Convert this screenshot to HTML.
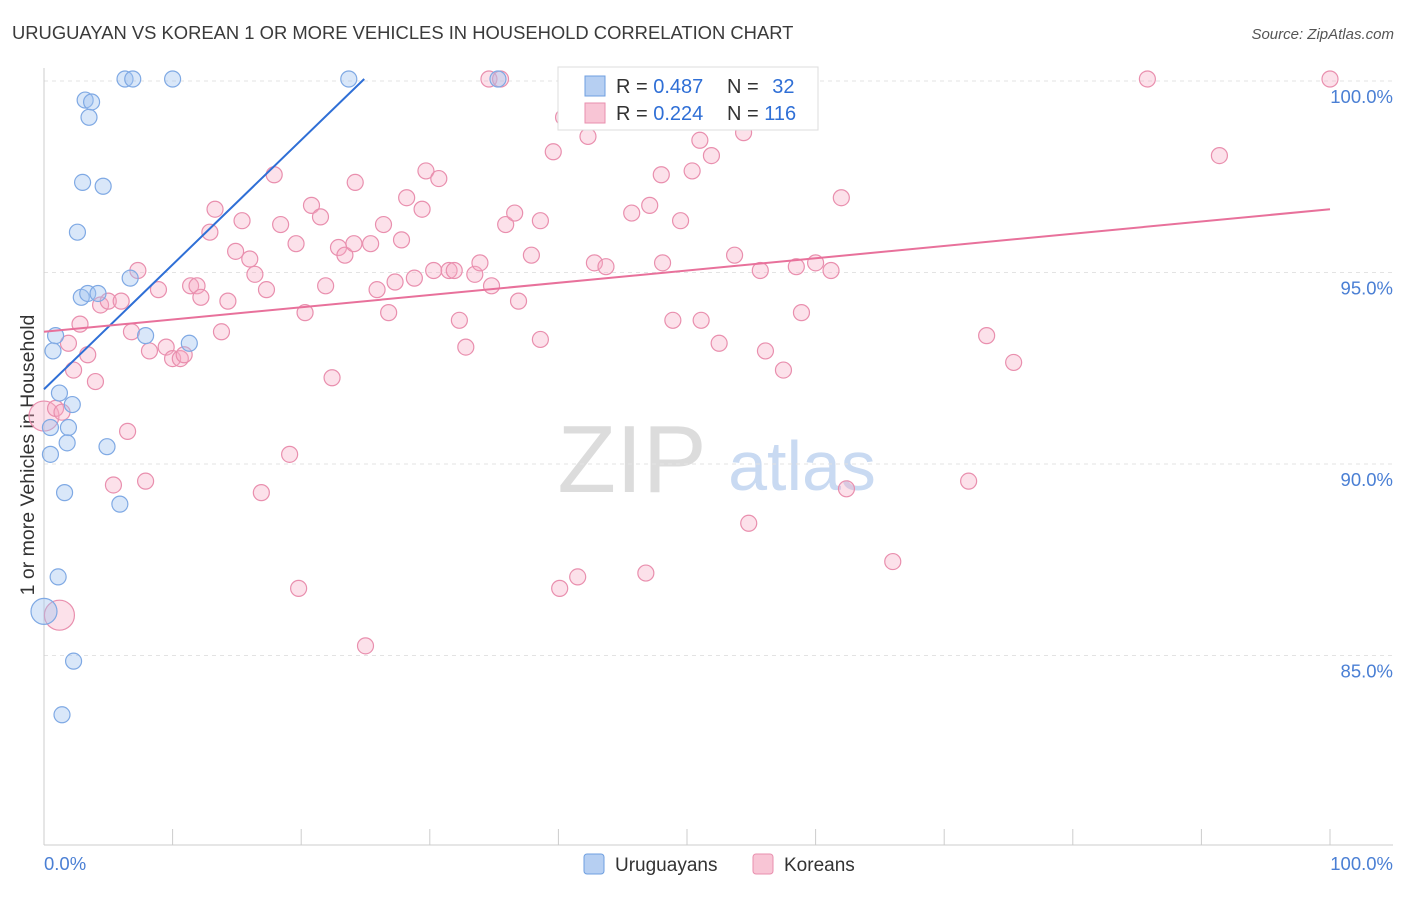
<!DOCTYPE html>
<html><head><meta charset="utf-8"><style>
body{margin:0;background:#fff;font-family:"Liberation Sans",sans-serif;}
svg text{font-family:"Liberation Sans",sans-serif;}
</style></head><body>
<svg id="chart" width="1406" height="892" viewBox="0 0 1406 892" xmlns="http://www.w3.org/2000/svg">
<text x="12" y="39" font-size="18.4" fill="#3a3a3a">URUGUAYAN VS KOREAN 1 OR MORE VEHICLES IN HOUSEHOLD CORRELATION CHART</text>
<text x="1394" y="39" font-size="15" fill="#555" text-anchor="end" font-style="italic">Source: ZipAtlas.com</text>
<text transform="translate(34,455) rotate(-90)" font-size="19.5" fill="#333" text-anchor="middle">1 or more Vehicles in Household</text>
<g>
<text x="632" y="492" font-size="96" fill="#dcdcdc" text-anchor="middle" font-family="Liberation Serif, serif">ZIP</text>
<text x="802" y="490" font-size="70" fill="#c9daf2" text-anchor="middle">atlas</text>
</g>
<g id="grid"></g><g id="axes"></g><g id="pts"></g><g id="lines"></g>
<g>
<rect x="558" y="67" width="260" height="63" fill="#fff" stroke="#ddd"/>
<rect x="585" y="76" width="20" height="20" fill="#b6cff2" stroke="#6f9fe0"/>
<rect x="585" y="103" width="20" height="20" fill="#f8c5d5" stroke="#e98fae"/>
<text x="616" y="93" font-size="20" fill="#333">R = <tspan fill="#2f6fd6">0.487</tspan></text>
<text x="727" y="93" font-size="20" fill="#333">N = <tspan fill="#2f6fd6" dx="8">32</tspan></text>
<text x="616" y="120" font-size="20" fill="#333">R = <tspan fill="#2f6fd6">0.224</tspan></text>
<text x="727" y="120" font-size="20" fill="#333">N = <tspan fill="#2f6fd6">116</tspan></text>
</g>
<g>
<rect x="584" y="854" width="20" height="20" rx="3" fill="#b6cff2" stroke="#6f9fe0"/>
<text x="615" y="871" font-size="19" fill="#333">Uruguayans</text>
<rect x="753" y="854" width="20" height="20" rx="3" fill="#f8c5d5" stroke="#e98fae"/>
<text x="784" y="871" font-size="19" fill="#333">Koreans</text>
</g>
</svg>
<script>
const yTicks=[100,95,90,85];
const xTickVals=[0,10,20,30,40,50,60,70,80,90,100];
const blueX=[6.3,6.9,10.0,23.7,35.3,3.2,3.7,3.5,3.0,4.6,2.6,6.7,2.9,3.4,4.2,0.9,7.9,0.7,11.3,1.2,2.2,0.5,1.9,1.8,4.9,0.5,1.6,5.9,1.1,0,2.3,1.4];
const blueY=[100,100,100,100,100,99.45,99.4,99.0,97.3,97.2,96.0,94.8,94.3,94.4,94.4,93.3,93.3,92.9,93.1,91.8,91.5,90.9,90.9,90.5,90.4,90.2,89.2,88.9,87.0,86.1,84.8,83.4];
const pinkX=[0.0,0.9,1.4,1.2,1.9,2.8,2.3,3.4,4.0,4.4,5.0,6.0,6.5,5.4,7.3,7.9,6.8,8.2,8.9,9.5,10.0,10.6,10.9,11.4,11.9,12.2,12.9,13.3,13.8,14.3,14.9,15.4,16.0,16.4,16.9,17.3,17.9,18.4,19.1,19.6,19.8,20.3,20.8,21.5,21.9,22.4,22.9,23.4,24.1,24.2,25.0,25.4,25.9,26.4,26.8,27.3,27.8,28.2,28.8,29.4,29.7,30.3,30.7,31.5,31.9,32.3,32.8,33.5,33.9,34.6,34.8,35.5,35.9,36.6,36.9,37.9,38.6,38.6,39.6,40.1,40.4,40.8,41.5,42.3,42.8,43.7,45.7,46.8,47.1,48.0,48.1,48.9,49.5,50.4,51.0,51.1,51.9,52.5,53.7,54.4,54.8,55.7,56.1,57.5,58.5,58.9,60.0,61.2,62.0,62.4,66.0,71.9,73.3,75.4,85.8,91.4,100];
const pinkY=[91.2,91.4,91.3,86.0,93.1,93.6,92.4,92.8,92.1,94.1,94.2,94.2,90.8,89.4,95.0,89.5,93.4,92.9,94.5,93.0,92.7,92.7,92.8,94.6,94.6,94.3,96.0,96.6,93.4,94.2,95.5,96.3,95.3,94.9,89.2,94.5,97.5,96.2,90.2,95.7,86.7,93.9,96.7,96.4,94.6,92.2,95.6,95.4,95.7,97.3,85.2,95.7,94.5,96.2,93.9,94.7,95.8,96.9,94.8,96.6,97.6,95.0,97.4,95.0,95.0,93.7,93.0,94.9,95.2,100,94.6,100,96.2,96.5,94.2,95.4,96.3,93.2,98.1,86.7,99.0,100,87.0,98.5,95.2,95.1,96.5,87.1,96.7,97.5,95.2,93.7,96.3,97.6,98.4,93.7,98.0,93.1,95.4,98.6,88.4,95.0,92.9,92.4,95.1,93.9,95.2,95.0,96.9,89.3,87.4,89.5,93.3,92.6,100,98.0,100];
const blueTrend=[[0,91.9],[24.9,100]];
const pinkTrend=[[0,93.4],[100,96.6]];
const X=v=>44+v*12.86, Y=v=>79+(100-v)*38.3;
const NS="http://www.w3.org/2000/svg";
function mk(t,a,p){const e=document.createElementNS(NS,t);for(const k in a)e.setAttribute(k,a[k]);p.appendChild(e);return e;}
const grid=document.getElementById('grid'),axes=document.getElementById('axes'),pts=document.getElementById('pts'),lines=document.getElementById('lines');
yTicks.forEach(v=>{
 const l=mk('line',{x1:44,x2:1393,y1:Y(v)+2,y2:Y(v)+2,stroke:'#e3e3e3','stroke-dasharray':'4,4'},grid);
 
 
 const t=mk('text',{x:1393,y:Y(v)+24,'font-size':18.5,fill:'#4a7fd4','text-anchor':'end'},axes);
 t.textContent=v.toFixed(1)+'%';
 
 
});
const ax=mk('line',{x1:44,x2:44,y1:68,y2:845,stroke:'#ccc'},axes);


const bx=mk('line',{x1:44,x2:1393,y1:845,y2:845,stroke:'#ccc'},axes);


xTickVals.forEach(v=>{
 const t=mk('line',{x1:X(v),x2:X(v),y1:829,y2:845,stroke:'#ccc'},axes);
 
 
});
const x0=mk('text',{x:44,y:870,'font-size':18.5,fill:'#4a7fd4'},axes);x0.textContent='0.0%';


const x1=mk('text',{x:1393,y:870,'font-size':18.5,fill:'#4a7fd4','text-anchor':'end'},axes);x1.textContent='100.0%';


pinkX.forEach((v,i)=>{
 const c=mk('circle',{cx:X(v),cy:Y(pinkY[i]),r:(i===0||i===3)?15:8,fill:'rgba(245,170,195,0.35)',stroke:'#e98fae','stroke-width':1.2},pts);
 
 
});
blueX.forEach((v,i)=>{
 const c=mk('circle',{cx:X(v),cy:Y(blueY[i]),r:i===29?13:8,fill:'rgba(160,195,240,0.4)',stroke:'#7fa9e4','stroke-width':1.2},pts);
 
 
});
const bl=mk('line',{x1:X(blueTrend[0][0]),y1:Y(blueTrend[0][1]),x2:X(blueTrend[1][0]),y2:Y(blueTrend[1][1]),stroke:'#2f6fd6','stroke-width':2},lines);


const pl=mk('line',{x1:X(pinkTrend[0][0]),y1:Y(pinkTrend[0][1]),x2:X(pinkTrend[1][0]),y2:Y(pinkTrend[1][1]),stroke:'#e8719b','stroke-width':2},lines);


</script>
</body></html>
